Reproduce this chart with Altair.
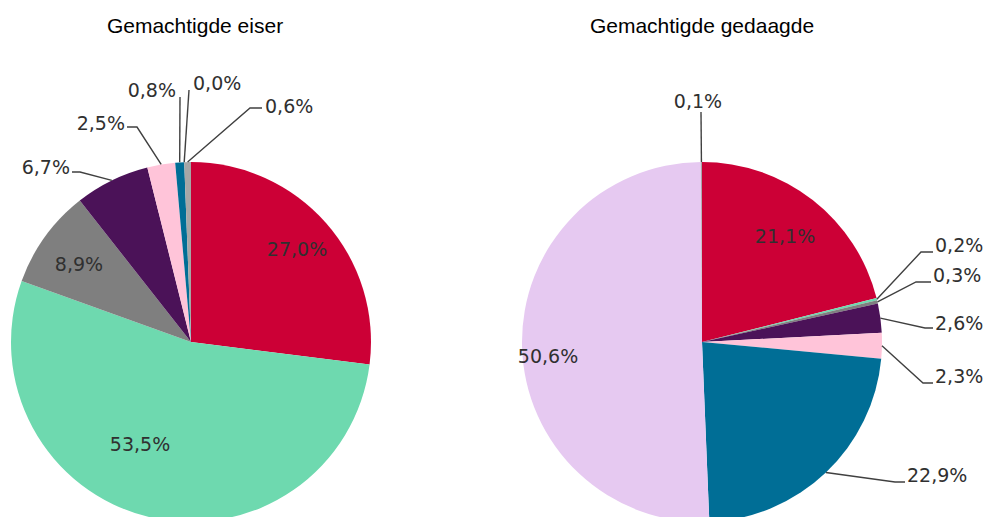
import math
import altair as alt
import pandas as pd

# ---------------- data ----------------
categories = ["Categorie 1", "Categorie 2", "Categorie 3", "Categorie 4",
              "Categorie 5", "Categorie 6", "Categorie 7", "Categorie 8"]
colors = ["#CC0036", "#6ED9AF", "#7F7F7F", "#4B1258",
          "#FFC4D9", "#006E96", "#E6C9F1", "#A6A6A6"]
eiser_values = [27.0, 53.5, 8.9, 6.7, 2.5, 0.8, 0.0, 0.6]
gedaagde_values = [21.1, 0.2, 0.3, 2.6, 2.3, 22.9, 50.6, 0.1]
titles = ["Gemachtigde eiser", "Gemachtigde gedaagde"]

# ---------------- layout (page pixel coordinates) ----------------
W, H = 976, 530
R = 180
pies = [
    {"key": "eiser", "cx": 191, "cy": 342, "values": eiser_values, "title_x": 195},
    {"key": "gedaagde", "cx": 702, "cy": 342, "values": gedaagde_values, "title_x": 702},
]
TITLE_Y = 27
# per slice: (text x, text y, align, elbow point, end point) ; elbow None = inside label
label_layout = {
    "eiser": [
        (297, 250, "center", None, None),
        (140, 445, "center", None, None),
        (79, 265, "center", None, None),
        (70, 168, "right", (80, 172), (72, 172)),
        (125, 124, "right", (137, 127), (127, 127)),
        (176, 91, "right", (180, 97), (180, 97)),
        (193, 84, "left", (189, 90), (189, 90)),
        (265, 107, "left", (250, 108), (262, 108)),
    ],
    "gedaagde": [
        (785, 237, "center", None, None),
        (935, 246, "left", (921, 252), (933, 252)),
        (933, 276, "left", (916, 282), (931, 282)),
        (935, 324, "left", (925, 328), (933, 328)),
        (935, 377, "left", (923, 383), (933, 383)),
        (907, 476, "left", (895, 482), (905, 482)),
        (548, 357, "center", None, None),
        (698, 102, "center", (701, 112), (701, 112)),
    ],
}

def fmt(v):
    return f"{v:.1f}".replace(".", ",") + "%"

xs = alt.Scale(domain=[8, 8 + W], nice=False, zero=False)
ys = alt.Scale(domain=[8, 8 + H], nice=False, zero=False, reverse=True)
color_scale = alt.Scale(domain=categories, range=colors)

layers = []
line_rows, label_rows = [], []
for p in pies:
    vals = p["values"]
    df = pd.DataFrame({"cat": categories, "value": vals, "idx": range(len(vals))})
    arc = alt.Chart(df).mark_arc(outerRadius=R, stroke=None).encode(
        theta=alt.Theta("value:Q", stack=True),
        order=alt.Order("idx:Q"),
        color=alt.Color("cat:N", scale=color_scale, legend=None),
        x=alt.value(p["cx"] - 8),
        y=alt.value(p["cy"] - 8),
    )
    layers.append(arc)

    total = sum(vals)
    cum = 0.0
    for i, v in enumerate(vals):
        a = 2 * math.pi * (cum + v / 2) / total
        cum += v
        tx, ty, align, elbow, end = label_layout[p["key"]][i]
        label_rows.append({"x": tx, "y": ty, "text": fmt(v), "align": align,
                           "inside": elbow is None})
        if elbow is not None:
            x0 = p["cx"] + R * math.sin(a)
            y0 = p["cy"] - R * math.cos(a)
            k = f"{p['key']}-{i}"
            for o, (lx, ly) in enumerate([(x0, y0), elbow, end]):
                line_rows.append({"key": k, "ord": o, "x": lx, "y": ly})

lines_df = pd.DataFrame(line_rows)
labels_df = pd.DataFrame(label_rows)
titles_df = pd.DataFrame({"x": [p["title_x"] for p in pies], "y": [TITLE_Y] * 2, "text": titles})

lines = alt.Chart(lines_df).mark_line(color="#404040", strokeWidth=1.4).encode(
    x=alt.X("x:Q", scale=xs, axis=None),
    y=alt.Y("y:Q", scale=ys, axis=None),
    detail="key:N",
    order="ord:Q",
)
layers.append(lines)

for al in ["left", "right", "center"]:
    t = alt.Chart(labels_df).transform_filter(alt.datum.align == al).mark_text(
        align=al, baseline="middle", font="DejaVu Sans", fontSize=19, color="#303030"
    ).encode(
        x=alt.X("x:Q", scale=xs, axis=None),
        y=alt.Y("y:Q", scale=ys, axis=None),
        text="text:N",
    )
    layers.append(t)

title_layer = alt.Chart(titles_df).mark_text(
    align="center", baseline="middle", font="Liberation Sans", fontSize=21, color="#000000"
).encode(
    x=alt.X("x:Q", scale=xs, axis=None),
    y=alt.Y("y:Q", scale=ys, axis=None),
    text="text:N",
)
layers.append(title_layer)

chart = alt.layer(*layers).resolve_scale(theta="independent").properties(
    width=W, height=H, padding=0, autosize=alt.AutoSizeParams(type="none")
).configure_view(stroke=None)

chart.save("out.html", embed_options={"renderer": "svg", "actions": False})
